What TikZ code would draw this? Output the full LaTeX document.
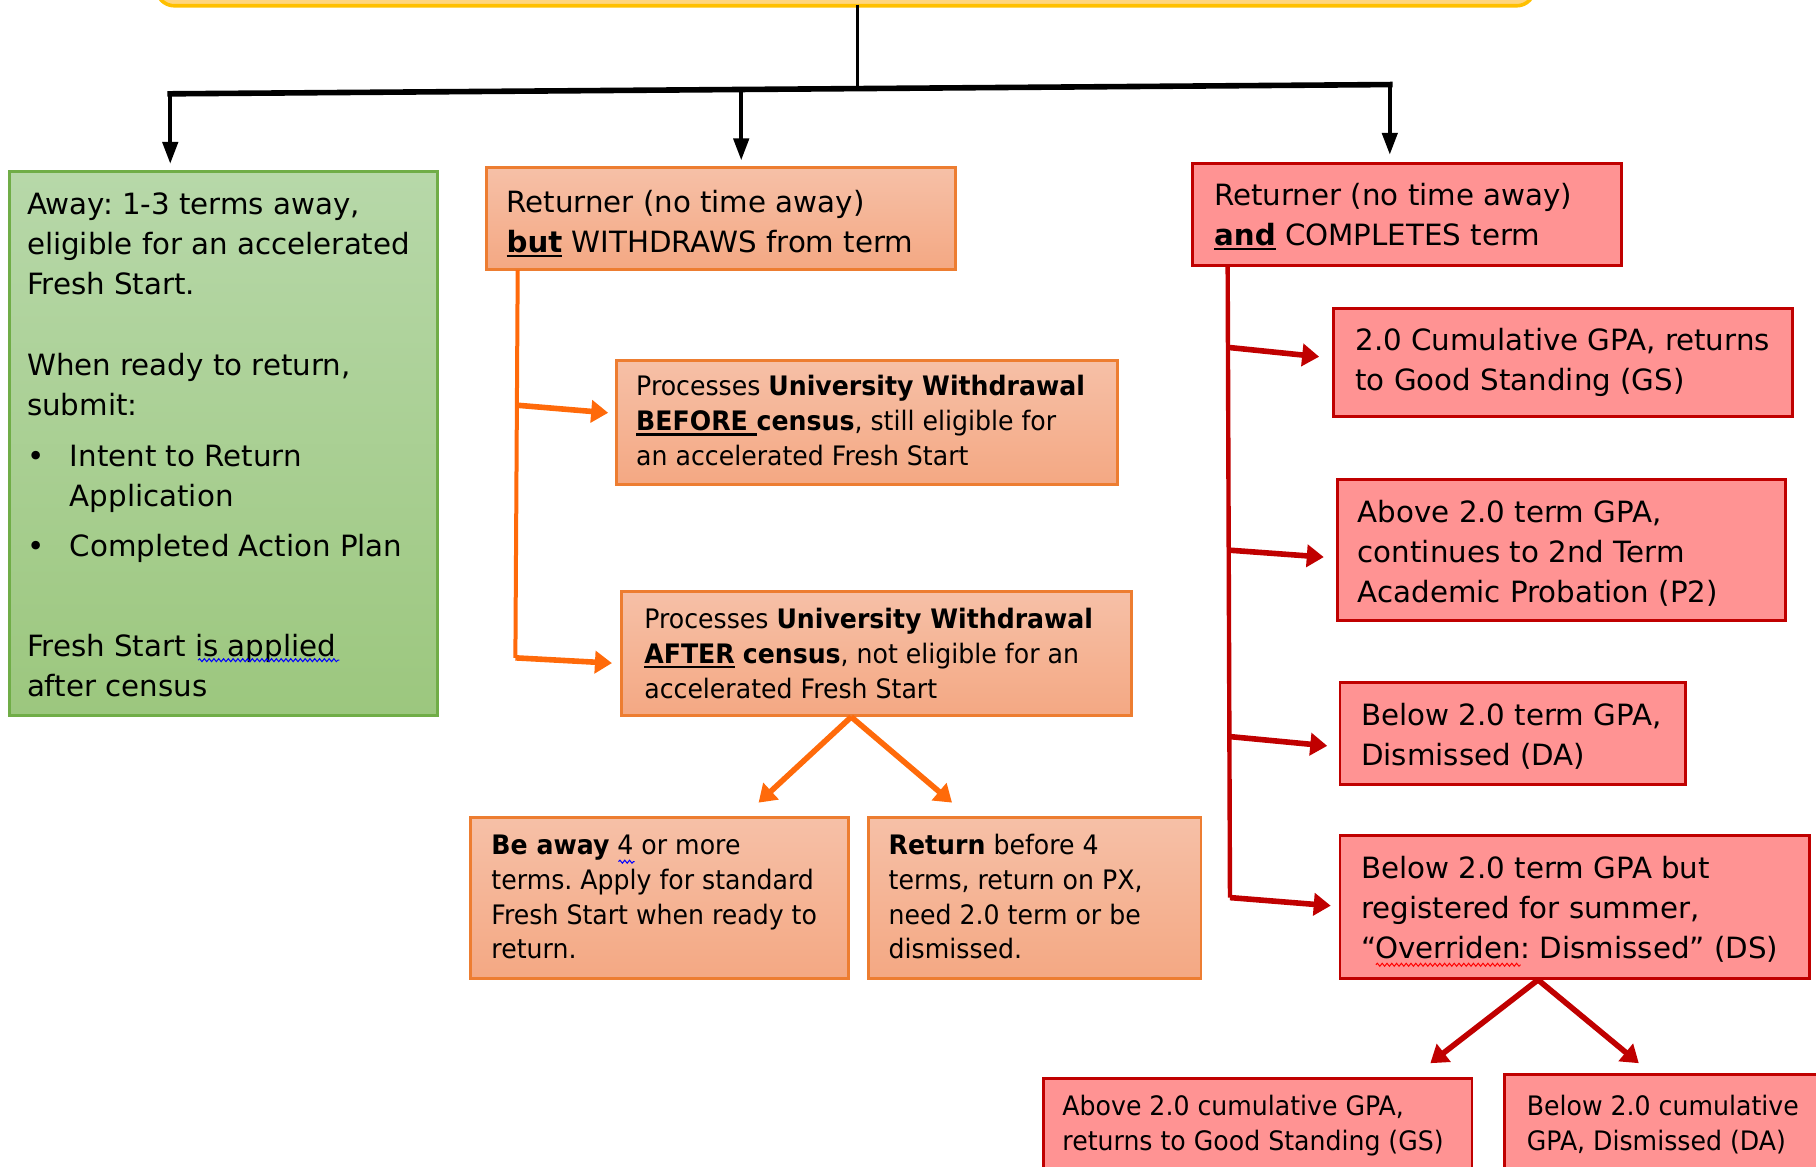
\documentclass[tikz,border=0pt]{standalone}
\usepackage{fontspec}
\setmainfont{DejaVu Sans}
\newfontfamily\narrowfam[FakeStretch=0.94]{DejaVu Sans}
\usetikzlibrary{arrows.meta,fit,decorations.pathmorphing}
\definecolor{ylfill}{HTML}{FFD67F}
\definecolor{ylline}{HTML}{FFC000}
\definecolor{gntop}{HTML}{B7D8A9}
\definecolor{gnbot}{HTML}{9CC77E}
\definecolor{gnline}{HTML}{70AD47}
\definecolor{ortop}{HTML}{F6C0A7}
\definecolor{orbot}{HTML}{F4A883}
\definecolor{orline}{HTML}{ED7D31}
\definecolor{orarrow}{HTML}{FF6A0A}
\definecolor{rdfill}{HTML}{FF9393}
\definecolor{rdline}{HTML}{C00000}
\newcommand\thickul[1]{\setbox0\hbox{#1}\rlap{\rule[-2.4pt]{\wd0}{1.1pt}}\box0\relax}
\newcommand\bulitem[1]{\makebox[21.4pt][l]{\textbullet}#1}
\frenchspacing
\begin{document}
\begin{tikzpicture}[x=0.5791pt,y=-0.5791pt,
  boxbase/.style={inner sep=0pt, line width=1.45pt},
  gbox/.style={boxbase, draw=gnline, top color=gntop, bottom color=gnbot},
  obox/.style={boxbase, draw=orline, top color=ortop, bottom color=orbot},
  rbox/.style={boxbase, draw=rdline, fill=rdfill},
  ybox/.style={inner sep=0pt, draw=ylline, line width=1.8pt, fill=ylfill, rounded corners=9pt},
  maintxt/.style={inner sep=0pt, anchor=base west, align=left, font=\frenchspacing\fontsize{14.65pt}{20pt}\selectfont},
  smalltxt/.style={inner sep=0pt, anchor=base west, align=left, font=\frenchspacing\narrowfam\fontsize{13.4pt}{17.4pt}\selectfont},
  blkline/.style={line width=1.5pt, black},
  blkbar/.style={line width=2.8pt, black, line cap=rect},
  blkarrow/.style={line width=2.2pt, black, -{Triangle[length=11pt,width=7.5pt]}},
  oline/.style={line width=2pt, orarrow},
  oarrow/.style={line width=2.8pt, orarrow, -{Triangle[length=8.5pt,width=11pt]}},
  rline/.style={line width=2.2pt, rdline},
  rarrow/.style={line width=2.8pt, rdline, -{Triangle[length=8.5pt,width=11pt]}},
  wavy/.style={line width=0.5pt, decorate, decoration={snake, amplitude=0.75pt, segment length=2.4pt}}
]
\useasboundingbox (0,0) rectangle (1568,1007);
\clip (0,0) rectangle (1568,1007);

% boxes
\node (topbox) [ybox, fit={(135,-60) (1325,5)}] {};
\node (green) [gbox, fit={(8,148) (378,618)}] {};
\node (withdraw) [obox, fit={(420,145) (825,233)}] {};
\node (before) [obox, fit={(532,311) (965,418)}] {};
\node (after) [obox, fit={(537,511) (977,618)}] {};
\node (beaway) [obox, fit={(406,706) (733,845)}] {};
\node (return) [obox, fit={(750,706) (1037,845)}] {};
\node (complete) [rbox, fit={(1030,141) (1400,229)}] {};
\node (gs) [rbox, fit={(1151,266) (1548,360)}] {};
\node (p2) [rbox, fit={(1155,414) (1542,536)}] {};
\node (da) [rbox, fit={(1157,589) (1455,677)}] {};
\node (ds) [rbox, fit={(1157,721) (1562,845)}] {};
\node (gs2) [rbox, fit={(901,931) (1271,1040)}] {};
\node (da2) [rbox, fit={(1299,928) (1600,1040)}] {};

% texts (anchored at the baseline of the last line)
\node (greentext) [maintxt] at (23,601) {Away: 1-3 terms away,\\ eligible for an accelerated\\ Fresh Start.\\[20.5pt] When ready to return,\\ submit:\\[5.5pt] \bulitem{Intent to Return}\\ \hspace*{21.4pt}Application\\[4.9pt] \bulitem{Completed Action Plan}\\[29.8pt] Fresh Start is applied\\ after census};
\node (withdrawtext) [maintxt] at (437,218) {Returner (no time away)\\ \thickul{\textbf{but}} WITHDRAWS from term};
\node (beforetext) [smalltxt] at (549,402) {Processes \textbf{University Withdrawal}\\ \thickul{\textbf{BEFORE }}\textbf{census}, still eligible for\\ an accelerated Fresh Start};
\node (aftertext) [smalltxt] at (556,603) {Processes \textbf{University Withdrawal}\\ \thickul{\textbf{AFTER}} \textbf{census}, not eligible for an\\ accelerated Fresh Start};
\node (beawaytext) [smalltxt] at (424,828) {\textbf{Be away} 4 or more\\ terms. Apply for standard\\ Fresh Start when ready to\\ return.};
\node (returntext) [smalltxt] at (767,828) {\textbf{Return} before 4\\ terms, return on PX,\\ need 2.0 term or be\\ dismissed.};
\node (completetext) [maintxt] at (1048,212) {Returner (no time away)\\ \thickul{\textbf{and}} COMPLETES term};
\node (gstext) [maintxt] at (1170,337) {2.0 Cumulative GPA, returns\\ to Good Standing (GS)};
\node (p2text) [maintxt] at (1172,520) {Above 2.0 term GPA,\\ continues to 2nd Term\\ Academic Probation (P2)};
\node (datext) [maintxt] at (1175,661) {Below 2.0 term GPA,\\ Dismissed (DA)};
\node (dstext) [maintxt] at (1175,828) {Below 2.0 term GPA but\\ registered for summer,\\ “Overriden: Dismissed” (DS)};
\node (gs2text) [smalltxt] at (917,993) {Above 2.0 cumulative GPA,\\ returns to Good Standing (GS)};
\node (da2text) [smalltxt] at (1318,993) {Below 2.0 cumulative\\ GPA, Dismissed (DA)};

% spell-check underlines
\draw[wavy, blue] (171,570) -- (293,570);
\draw[wavy, blue] (534,744) -- (548,744);
\draw[wavy, red] (1188,833) -- (1313,833);

% black tree
\coordinate (t0) at (740,4);
\coordinate (j) at (740,76.5);
\coordinate (hl) at (147,81);
\coordinate (hm) at (640,77.5);
\coordinate (hr) at (1200,73);
\draw[blkline] (t0) -- (j);
\draw[blkbar] (hl) -- (hr);
\draw[blkarrow, shorten >=3pt] (hl) -- (hl |- green.north);
\draw[blkarrow, shorten >=3pt] (hm) -- (hm |- withdraw.north);
\draw[blkarrow, shorten >=3.5pt] (hr) -- (hr |- complete.north);

% orange connectors
\coordinate (oa) at (447,233);
\coordinate (ob1) at (448,350);
\coordinate (ob2) at (445,568);
\coordinate (bin) at (532,357);
\coordinate (ain) at (537,573);
\draw[oline] (oa) -- (ob2);
\draw[oarrow, shorten >=4pt] (ob1) -- (bin);
\draw[oarrow, shorten >=5pt] (ob2) -- (ain);
\coordinate (ov) at (735,619);
\coordinate (ovl) at (655,693);
\coordinate (ovr) at (822,693);
\draw[oarrow] (ov) -- (ovl);
\draw[oarrow] (ov) -- (ovr);

% red connectors
\coordinate (ra) at (1060,229);
\coordinate (rb1) at (1061,300);
\coordinate (rb2) at (1061,475);
\coordinate (rb3) at (1062,636);
\coordinate (rb4) at (1062,775);
\coordinate (gsin) at (1139,308);
\coordinate (p2in) at (1143,481);
\coordinate (dain) at (1146,644);
\coordinate (dsin) at (1149,782);
\draw[rline] (ra) -- (rb4);
\draw[rarrow] (rb1) -- (gsin);
\draw[rarrow] (rb2) -- (p2in);
\draw[rarrow] (rb3) -- (dain);
\draw[rarrow] (rb4) -- (dsin);
\coordinate (rv) at (1328,846);
\coordinate (rvl) at (1235,918);
\coordinate (rvr) at (1415,918);
\draw[rarrow] (rv) -- (rvl);
\draw[rarrow] (rv) -- (rvr);
\end{tikzpicture}
\end{document}
